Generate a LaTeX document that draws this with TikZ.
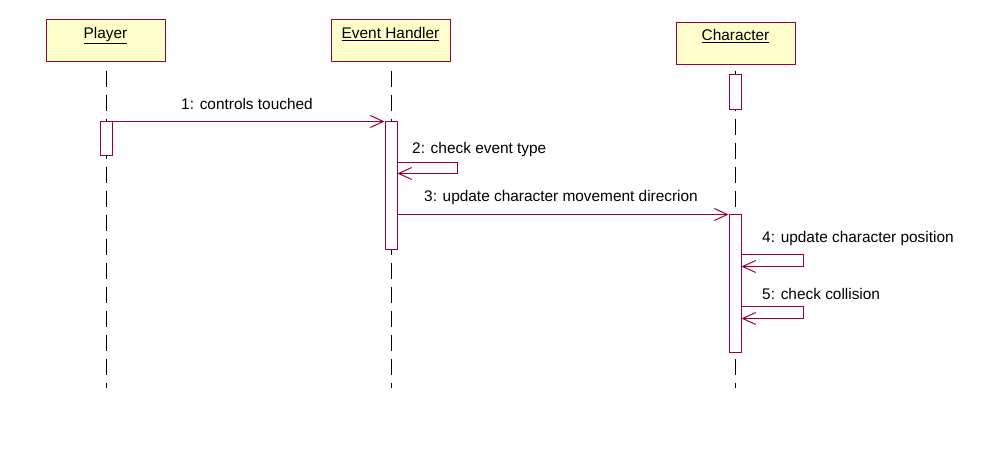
\documentclass[tikz,border=0pt]{standalone}
\usepackage{fontspec}
\setmainfont{Liberation Sans}
\usetikzlibrary{arrows.meta}
\definecolor{umlred}{RGB}{153,0,51}
\definecolor{umlfill}{RGB}{255,255,204}
\begin{document}
\begin{tikzpicture}[x=1pt,y=-1pt,
  every node/.style={font=\fontsize{15.4}{18}\selectfont},
  actor/.style={draw=umlred, fill=umlfill, line width=1pt, minimum width=119pt, minimum height=42pt, inner sep=0pt},
  actortext/.style={anchor=north, inner sep=0pt, text height=11pt},
  lifeline/.style={draw=black, line width=1pt, dash pattern=on 16pt off 8pt},
  activation/.style={draw=umlred, fill=white, line width=1pt, minimum width=12pt, inner sep=0pt},
  msg/.style={draw=umlred, line width=1pt, -{Straight Barb[length=13pt,width=12pt]}},
  msglabel/.style={inner sep=0pt}
]
\useasboundingbox (0,0) rectangle (1000,454);

% actors
\node[actor] (player) at (105.5,41) {};
\node[actortext] (playerlbl) at ([yshift=-8pt]player.north) {\underline{Player}};
\node[actor] (eh) at (390.5,41) {};
\node[actortext] (ehlbl) at ([yshift=-8pt]eh.north) {\underline{Event Handler}};
\node[actor] (char) at (735.5,44) {};
\node[actortext] (charlbl) at ([yshift=-7pt]char.north) {\underline{Character}};

% lifelines
\coordinate (pltop) at (106,71);
\coordinate (plbot) at (106,388);
\coordinate (ehtop) at (391,71);
\coordinate (ehbot) at (391,388);
\coordinate (chtop) at (735,71);
\coordinate (chbot) at (735,388);
\draw[lifeline] (pltop) -- (plbot);
\draw[lifeline] (ehtop) -- (ehbot);
\draw[lifeline] (chtop) -- (chbot);

% activations
\node[activation, minimum height=34pt] (pact) at (106,139) {};
\node[activation, minimum height=127pt] (ehact) at (391,185.5) {};
\node[activation, minimum height=35pt] (cact1) at (735,92.5) {};
\node[activation, minimum height=137pt] (cact2) at (735,283.5) {};

% messages
\draw[msg] (pact.north east) -- (ehact.north west);
\node[msglabel] (m1) at (247,104) {1: controls touched};

\draw[msg] ([yshift=-41pt]ehact.north east) -- ++(60,0) -- ++(0,11) -- ([yshift=-52pt]ehact.north east);
\node[msglabel, anchor=west] (m2) at (412,150) {2: check event type};

\draw[msg] (ehact.east |- cact2.north west) -- (cact2.north west);
\node[msglabel, anchor=west] (m3) at (424,198) {3: update character movement direcrion};

\draw[msg] ([yshift=-40pt]cact2.north east) -- ++(62,0) -- ++(0,12) -- ([yshift=-52pt]cact2.north east);
\node[msglabel, anchor=west] (m4) at (762,239) {4: update character position};

\draw[msg] ([yshift=-92pt]cact2.north east) -- ++(62,0) -- ++(0,12) -- ([yshift=-104pt]cact2.north east);
\node[msglabel, anchor=west] (m5) at (762,294) {5: check collision};
\end{tikzpicture}
\end{document}
